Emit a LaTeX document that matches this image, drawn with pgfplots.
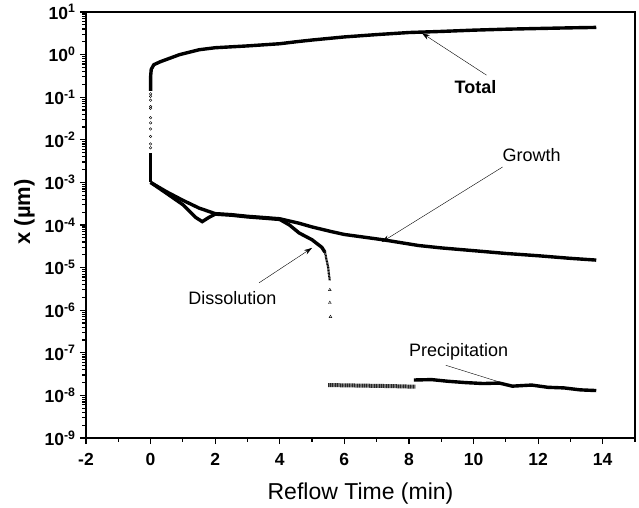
\documentclass[border=0pt]{standalone}
\usepackage{pgfplots}
\pgfplotsset{compat=1.18}
\usetikzlibrary{arrows.meta}
\usepackage{fontspec}
\setmainfont{Liberation Sans}
\begin{document}
\begin{tikzpicture}
\begin{axis}[
  scale only axis, width=549pt, height=426pt,
  xmin=-2, xmax=15, ymode=log, ymin=1e-9, ymax=1e1,
  axis line style={line width=1.3pt},
  tick style={line width=1.2pt, black},
  tick align=outside, xtick pos=bottom, ytick pos=left,
  major tick length=6pt, minor tick length=3.5pt,
  xtick={-2,0,...,14}, minor xtick={-1,1,...,15},
  ytick={1e-9,1e-8,1e-7,1e-6,1e-5,1e-4,1e-3,1e-2,1e-1,1e0,1e1},
  yticklabels={10\textsuperscript{-9},10\textsuperscript{-8},10\textsuperscript{-7},10\textsuperscript{-6},10\textsuperscript{-5},10\textsuperscript{-4},10\textsuperscript{-3},10\textsuperscript{-2},10\textsuperscript{-1},10\textsuperscript{0},10\textsuperscript{1}},
  xticklabel style={font=\fontsize{17.5}{20}\selectfont\bfseries, /pgf/number format/assume math mode=true, yshift=-6pt},
  yticklabel style={font=\fontsize{17.5}{20}\selectfont\bfseries, xshift=-1pt},
  xlabel={Reflow Time (min)}, ylabel={\bfseries x (µm)},
  xlabel style={font=\fontsize{23}{26}\selectfont, yshift=-10pt},
  ylabel style={font=\fontsize{22}{26}\selectfont, yshift=3pt, xshift=13pt},
  clip=false,
]
% Total
\addplot[line width=3pt, black] coordinates {(0,1e-3)(0,2e-3)(0,5e-3)};
\addplot[only marks, mark=o, mark size=1.3pt, black, thin] coordinates {(0,6.5e-3)(0,8e-3)(0,1.2e-2)(0,1.8e-2)(0,2.5e-2)(0,3.3e-2)(0,5.5e-2)(0,6e-2)(0,8.5e-2)(0,1.05e-1)(0,1.2e-1)};
\addplot[line width=3.4pt, black] coordinates {(0,0.14)(0,0.3)(0.02,0.45)(0.1,0.58)(0.3,0.68)(0.9,1.0)(1.5,1.3)(2.0,1.45)(3,1.6)(4,1.8)(4.5,2.0)(5,2.2)(6,2.6)(7,2.95)(8,3.3)(9,3.5)(10,3.75)(11,3.95)(12,4.1)(13,4.25)(13.8,4.35)};
% Growth
\addplot[line width=3.4pt, black] coordinates {(0,1e-3)(0.5,6e-4)(1,3.8e-4)(1.5,2.5e-4)(2,1.85e-4)(2.5,1.75e-4)(3,1.6e-4)(3.5,1.5e-4)(4,1.4e-4)(4.6,1.1e-4)(5,9e-5)(5.6,7e-5)(6,6e-5)(7.2,4.5e-5)(8.3,3.3e-5)(9,2.9e-5)(10,2.5e-5)(11,2.15e-5)(12,1.9e-5)(13,1.65e-5)(13.8,1.5e-5)};
% Dissolution
\addplot[line width=3.4pt, black] coordinates {(0,1e-3)(0.5,5.5e-4)(1,3e-4)(1.4,1.5e-4)(1.6,1.2e-4)(1.8,1.5e-4)(2.0,1.8e-4)(2.5,1.7e-4)(3,1.55e-4)(3.5,1.45e-4)(4,1.35e-4)(4.3,1.0e-4)(4.6,6.5e-5)(5.0,4.5e-5)(5.3,3e-5)(5.4,2.3e-5)};
\addplot[black, line width=2.2pt, dash pattern=on 1pt off 0.5pt] coordinates {(5.4,2.3e-5)(5.45,1.5e-5)(5.5,1e-5)(5.52,7e-6)(5.55,5e-6)};
\addplot[only marks, mark=triangle, mark size=1.6pt, black, thin] coordinates {(5.55,3e-6)(5.55,1.5e-6)(5.57,7e-7)};
% Precipitation
\addplot[black!85, line width=4pt, dash pattern=on 1.2pt off 0.5pt] coordinates {(5.5,1.75e-8)(6.5,1.7e-8)(7.5,1.65e-8)(8.2,1.6e-8)};
\addplot[line width=3.4pt, black] coordinates {(8.15,2.3e-8)(8.7,2.35e-8)(9.2,2.15e-8)(9.75,2.0e-8)(10.3,1.9e-8)(10.8,1.95e-8)(11.2,1.65e-8)(11.8,1.75e-8)(12.3,1.55e-8)(12.8,1.5e-8)(13.3,1.35e-8)(13.8,1.3e-8)};
% annotations
\node[font=\fontsize{18}{20}\selectfont\bfseries] at (axis cs:10.06,0.17) {Total};
\draw[-{Stealth[length=8pt,width=5pt]}, thin] (axis cs:10.4,0.33) -- (axis cs:8.4,3.2);
\node[font=\fontsize{18}{20}\selectfont] at (axis cs:11.8,4.4e-3) {Growth};
\draw[-{Stealth[length=8pt,width=5pt]}, thin] (axis cs:10.9,2.3e-3) -- (axis cs:7.16,4e-5);
\node[font=\fontsize{18}{20}\selectfont] at (axis cs:2.53,1.95e-6) {Dissolution};
\draw[-{Stealth[length=8pt,width=5pt]}, thin] (axis cs:3.36,4.4e-6) -- (axis cs:5.0,2.9e-5);
\node[font=\fontsize{18}{20}\selectfont] at (axis cs:9.54,1.05e-7) {Precipitation};
\draw[thin] (axis cs:9.14,5.1e-8) -- (axis cs:10.86,2.0e-8);
\end{axis}
\pgfresetboundingbox
\path (-86pt,-69pt) rectangle (553pt,438pt);
\end{tikzpicture}
\end{document}
